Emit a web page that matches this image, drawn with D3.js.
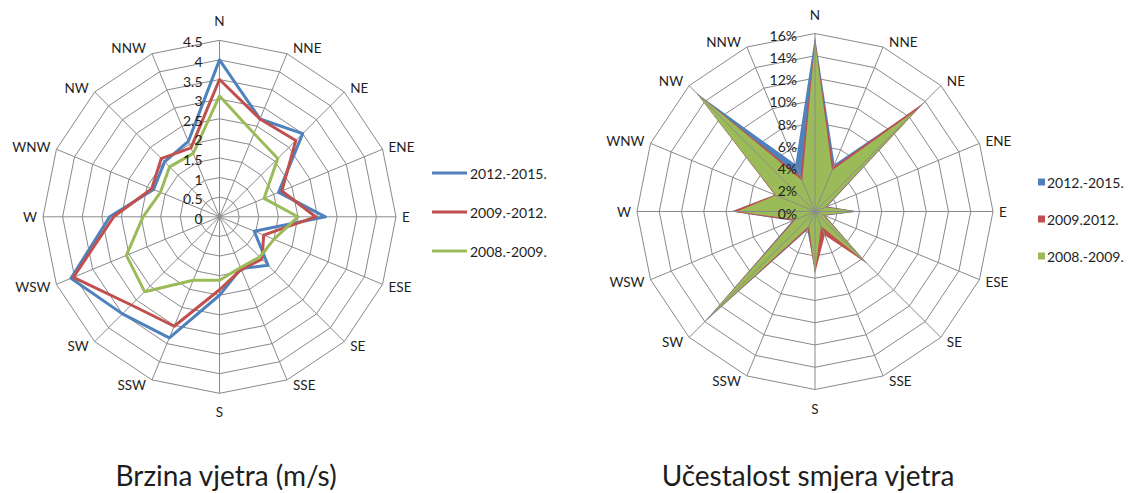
<!DOCTYPE html>
<html>
<head>
<meta charset="utf-8">
<script src="https://cdn.jsdelivr.net/npm/d3@7/dist/d3.min.js"></script>
<style>
  body { margin: 0; background: #fff; }
  svg text { font-family: Lato, "Open Sans", sans-serif; fill: #1e1e1e; }
</style>
</head>
<body>
<svg id="chart" width="1137" height="493"></svg>
<script>
// directions, clockwise from north
const directions = ['N', 'NNE', 'NE', 'ENE', 'E', 'ESE', 'SE', 'SSE',
                    'S', 'SSW', 'SW', 'WSW', 'W', 'WNW', 'NW', 'NNW'];

// wind speed (m/s)
const speedTicks = [0, 0.5, 1, 1.5, 2, 2.5, 3, 3.5, 4, 4.5];
const speedLabels = ['2012.-2015.', '2009.-2012.', '2008.-2009.'];
const speed2012 = [4.0, 2.7, 3.0, 1.63, 2.7, 0.96, 1.75, 1.43, 2.0, 3.34, 3.5, 4.1, 2.8, 1.82, 1.98, 2.08];
const speed2009 = [3.5, 2.7, 2.75, 1.72, 2.45, 1.22, 1.53, 1.45, 1.86, 3.02, 3.18, 4.03, 2.7, 1.87, 2.1, 1.9];
const speed2008 = [3.08, 2.3, 2.1, 1.23, 2.0, 1.5, 1.45, 1.4, 1.62, 1.75, 2.7, 2.57, 1.95, 1.63, 1.8, 1.75];

// direction frequency (%)
const freqTicks = [0, 2, 4, 6, 8, 10, 12, 14, 16];
const freqLabels = ['2012.-2015.', '2009.2012.', '2008.-2009.'];
const freq2012 = [15.7, 4.6, 13.4, 1.2, 3.9, 1.0, 6.6, 1.8, 5.3, 1.8, 14.1, 2.2, 7.5, 3.9, 15.0, 4.6];
const freq2009 = [15.5, 4.3, 13.9, 1.1, 3.8, 0.9, 6.6, 2.3, 5.6, 1.7, 13.9, 2.1, 7.5, 3.9, 15.1, 3.4];
const freq2008 = [15.3, 4.0, 12.9, 1.0, 3.8, 0.8, 6.5, 1.4, 5.5, 1.4, 13.8, 1.9, 7.0, 3.8, 15.0, 3.0];

const colors = ['#4f81bd', '#c0504d', '#9bbb59'];
const gridColor = '#8a8a8a';

const svg = d3.select('#chart');

function drawRadar(opts) {
  const g = svg.append('g').attr('transform', `translate(${opts.cx},${opts.cy})`);
  const maxV = opts.ticks[opts.ticks.length - 1];
  const r = d3.scaleLinear().domain([0, maxV]).range([0, opts.radius]);
  const angle = d3.scaleLinear().domain([0, directions.length]).range([0, 2 * Math.PI]);

  const radial = d3.lineRadial()
    .angle((d, i) => angle(i))
    .radius(d => r(d))
    .curve(d3.curveLinearClosed);

  // rings
  const rings = g.append('g').attr('class', 'rings');
  opts.ticks.slice(1).forEach(t => {
    rings.append('path')
      .attr('d', radial(directions.map(() => t)))
      .attr('fill', 'none')
      .attr('stroke', gridColor)
      .attr('stroke-width', 1);
  });

  const spokes = g.append('g').attr('class', 'spokes');
  function drawSpokes() {
    spokes.selectAll('line')
      .data(directions)
      .enter()
      .append('line')
      .attr('x1', 0).attr('y1', 0)
      .attr('x2', (d, i) => r(maxV) * Math.sin(angle(i)))
      .attr('y2', (d, i) => -r(maxV) * Math.cos(angle(i)))
      .attr('stroke', gridColor)
      .attr('stroke-width', 1);
  }

  const seriesG = g.append('g').attr('class', 'series');
  if (opts.filled) {
    opts.series.forEach((s, k) => {
      seriesG.append('path')
        .attr('d', radial(s))
        .attr('fill', colors[k])
        .attr('stroke', 'none');
    });
    spokes.raise();
    drawSpokes();
  } else {
    drawSpokes();
    seriesG.raise();
    opts.series.forEach((s, k) => {
      seriesG.append('path')
        .attr('d', radial(s))
        .attr('fill', 'none')
        .attr('stroke', colors[k])
        .attr('stroke-width', 3)
        .attr('stroke-linejoin', 'round');
    });
  }

  // value labels along the north axis
  g.append('g').selectAll('text')
    .data(opts.ticks)
    .enter()
    .append('text')
    .attr('x', -opts.tickGap)
    .attr('y', d => -r(d) + 1.5)
    .attr('text-anchor', 'end')
    .attr('dominant-baseline', 'central')
    .style('font-size', '14px')
    .text(opts.tickFormat);

  // direction labels
  g.append('g').selectAll('text')
    .data(directions)
    .enter()
    .append('text')
    .each(function(d, i) {
      const a = angle(i);
      const s = Math.sin(a), c = Math.cos(a);
      const vx = r(maxV) * s, vy = -r(maxV) * c;
      const el = d3.select(this);
      if (Math.abs(s) < 0.01) {
        el.attr('x', vx).attr('y', vy - c * 19).attr('text-anchor', 'middle');
      } else {
        el.attr('x', vx + (s > 0 ? 6 : -6))
          .attr('y', vy - c * 6)
          .attr('text-anchor', s > 0 ? 'start' : 'end');
      }
    })
    .attr('dominant-baseline', 'central')
    .style('font-size', '13.5px')
    .text(d => d);

  // title
  svg.append('text')
    .attr('x', opts.titleX)
    .attr('y', 486)
    .attr('text-anchor', 'middle')
    .style('font-size', '28px')
    .text(opts.title);
}

drawRadar({
  cx: 219.5, cy: 216.8, radius: 176.5,
  ticks: speedTicks, tickGap: 17,
  tickFormat: d => String(d),
  series: [speed2012, speed2009, speed2008],
  filled: false,
  title: 'Brzina vjetra (m/s)', titleX: 226
});

drawRadar({
  cx: 815, cy: 211.5, radius: 178,
  ticks: freqTicks, tickGap: 18,
  tickFormat: d => d + '%',
  series: [freq2012, freq2009, freq2008],
  filled: true,
  title: 'Učestalost smjera vjetra', titleX: 808
});

// legend, speed chart
const legLeft = svg.append('g').attr('transform', 'translate(432,173)');
speedLabels.forEach((lab, k) => {
  const row = legLeft.append('g').attr('transform', `translate(0,${k * 39})`);
  row.append('line')
    .attr('x1', 0).attr('x2', 35).attr('y1', 0).attr('y2', 0)
    .attr('stroke', colors[k]).attr('stroke-width', 3);
  row.append('text')
    .attr('x', 38).attr('y', 0)
    .attr('dominant-baseline', 'central')
    .style('font-size', '14px')
    .text(lab);
});

// legend, frequency chart
const legRight = svg.append('g').attr('transform', 'translate(1038,182)');
freqLabels.forEach((lab, k) => {
  const row = legRight.append('g').attr('transform', `translate(0,${k * 37})`);
  row.append('rect')
    .attr('x', 0).attr('y', -3.5).attr('width', 7).attr('height', 7)
    .attr('fill', colors[k]);
  row.append('text')
    .attr('x', 9).attr('y', 0)
    .attr('dominant-baseline', 'central')
    .style('font-size', '14px')
    .text(lab);
});
</script>
</body>
</html>
